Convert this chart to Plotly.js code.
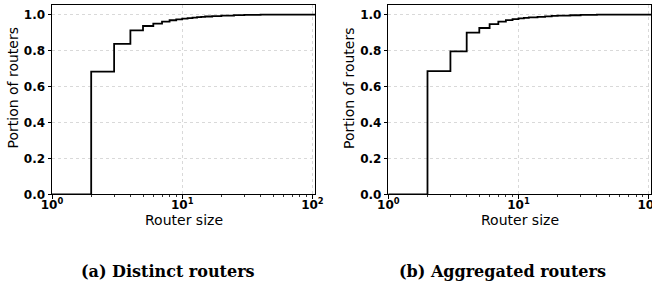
<!DOCTYPE html>
<html>
<head>
<meta charset="utf-8">
<script src="https://cdn.plot.ly/plotly-3.0.1.min.js"></script>
<style>html,body{margin:0;padding:0;background:#fff;}#chart{width:652px;height:289px;}</style>
</head>
<body>
<div id="chart"></div>
<script>
// Router size values (x) and CDF values (portion of routers)
const distinctSize = [1, 2, 3, 4, 5, 6, 7, 8, 9, 10, 11, 12, 13, 14, 15, 17, 20, 25, 30, 40, 105];
const distinctCdf  = [0, 0.683, 0.838, 0.913, 0.937, 0.950, 0.961, 0.969, 0.974, 0.978, 0.981, 0.984, 0.986, 0.988, 0.990, 0.992, 0.995, 0.998, 0.999, 1.0, 1.0];

const aggregatedSize = [1, 2, 3, 4, 5, 6, 7, 8, 9, 10, 11, 12, 14, 16, 18, 20, 25, 30, 40, 110];
const aggregatedCdf  = [0, 0.686, 0.796, 0.900, 0.926, 0.947, 0.961, 0.970, 0.975, 0.979, 0.982, 0.985, 0.988, 0.991, 0.993, 0.995, 0.997, 0.999, 1.0, 1.0];

const yTickVals = [0, 0.2, 0.4, 0.6, 0.8, 1.0];
const yTickText = ["0.0", "0.2", "0.4", "0.6", "0.8", "1.0"];
const xTickVals = [1, 10, 100];
const xTickText = ["10<sup>0</sup>", "10<sup>1</sup>", "10<sup>2</sup>"];
const xMinorVals = [2, 3, 4, 5, 6, 7, 8, 9, 20, 30, 40, 50, 60, 70, 80, 90];

const xTitle = "Router size";
const yTitle = "Portion of routers";
const captions = ["(a) Distinct routers", "(b) Aggregated routers"];

const W = 652, H = 289;
const lineStyle = {color: "#000", width: 1.8, shape: "hv"};

const traces = [
  {x: distinctSize, y: distinctCdf, type: "scatter", mode: "lines", line: lineStyle, xaxis: "x", yaxis: "y", hoverinfo: "skip"},
  {x: aggregatedSize, y: aggregatedCdf, type: "scatter", mode: "lines", line: lineStyle, xaxis: "x2", yaxis: "y2", hoverinfo: "skip"}
];

const tickFont = {family: "DejaVu Sans", size: 12, color: "#000", weight: "bold"};
const titleFont = {family: "DejaVu Sans", size: 14, color: "#000"};

function xAxis(domain, anchor) {
  return {
    type: "log", domain: domain, anchor: anchor,
    range: [0, 2.02],
    tickmode: "array", tickvals: xTickVals, ticktext: xTickText,
    tickfont: tickFont, ticks: "outside", ticklen: 3.5, tickwidth: 1, tickcolor: "#000",
    ticklabeloverflow: "allow", ticklabelstandoff: -4,
    minor: {tickmode: "array", tickvals: xMinorVals, ticks: "outside", ticklen: 2, tickwidth: 0.8, tickcolor: "#000", showgrid: false},
    showline: true, mirror: true, linecolor: "#000", linewidth: 1,
    showgrid: true, gridcolor: "#cfcfcf", griddash: "dot", gridwidth: 0.8,
    zeroline: false, automargin: false
  };
}
function yAxis(domain, anchor) {
  return {
    domain: domain, anchor: anchor,
    range: [0, 1.054],
    tickmode: "array", tickvals: yTickVals, ticktext: yTickText,
    tickfont: tickFont, ticks: "outside", ticklen: 3.5, tickwidth: 1, tickcolor: "#000",
    showline: true, mirror: true, linecolor: "#000", linewidth: 1,
    showgrid: true, gridcolor: "#cfcfcf", griddash: "dot", gridwidth: 0.8,
    zeroline: false, automargin: false
  };
}

const yDom = [(H - 194.3) / H, (H - 5) / H];
const xDom1 = [52 / W, 315 / W];
const xDom2 = [388.3 / W, 651.3 / W];
const capFont = {family: "DejaVu Serif", size: 16, color: "#000"};

function ann(text, x, y, font, extra) {
  return Object.assign({text: text, xref: "paper", yref: "paper", x: x, y: y, xanchor: "center", yanchor: "middle", showarrow: false, font: font}, extra || {});
}

const layout = {
  width: W, height: H,
  margin: {l: 0, r: 0, t: 0, b: 0},
  paper_bgcolor: "#fff", plot_bgcolor: "#fff",
  showlegend: false,
  xaxis: xAxis(xDom1, "y"),
  yaxis: yAxis(yDom, "x"),
  xaxis2: xAxis(xDom2, "y2"),
  yaxis2: yAxis(yDom, "x2"),
  annotations: [
    ann(xTitle, (xDom1[0] + xDom1[1]) / 2, (H - 220) / H, titleFont),
    ann(xTitle, (xDom2[0] + xDom2[1]) / 2, (H - 220) / H, titleFont),
    ann(yTitle, 12.5 / W, (H - 88) / H, titleFont, {textangle: -90}),
    ann(yTitle, 349 / W, (H - 88) / H, titleFont, {textangle: -90}),
    ann("<b>" + captions[0] + "</b>", 168 / W, (H - 271) / H, capFont),
    ann("<b>" + captions[1] + "</b>", 502 / W, (H - 271) / H, capFont)
  ]
};

Plotly.newPlot("chart", traces, layout, {staticPlot: true, displayModeBar: false});
</script>
</body>
</html>
